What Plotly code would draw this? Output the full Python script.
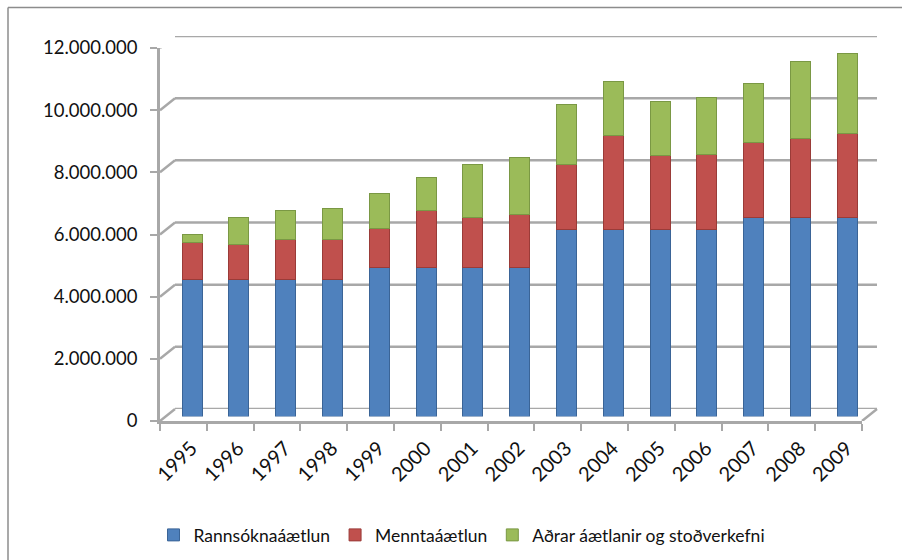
import plotly.graph_objects as go

years = ["1995", "1996", "1997", "1998", "1999", "2000", "2001", "2002",
         "2003", "2004", "2005", "2006", "2007", "2008", "2009"]
rannsokna = [4400000, 4400000, 4400000, 4400000, 4800000, 4800000, 4800000, 4800000,
             6000000, 6000000, 6000000, 6000000, 6400000, 6400000, 6400000]
mennta = [1190000, 1140000, 1300000, 1300000, 1250000, 1820000, 1610000, 1680000,
          2120000, 3040000, 2390000, 2410000, 2410000, 2530000, 2710000]
adrar = [270000, 870000, 920000, 990000, 1110000, 1080000, 1690000, 1860000,
         1930000, 1720000, 1750000, 1840000, 1890000, 2500000, 2550000]
series_names = ["Rannsóknaáætlun", "Menntaáætlun", "Aðrar áætlanir og stoðverkefni"]
tick_values = [0, 2000000, 4000000, 6000000, 8000000, 10000000, 12000000]

colors = ["#4F81BD", "#C0504D", "#9BBB59"]
edge = ["#3A6497", "#9A3B38", "#7A9844"]

FONT = "Lato, 'Open Sans', sans-serif"
W, H = 902, 560
L, R, T, B = 160, 22, 36, 139
PW, PH = W - L - R, H - T - B  # 720 x 385
FRONT_W, FRONT_H = 702, 373
DX, DY = 15, 12          # depth offset of back wall
BX, BY = 8.7, 4.6        # offset of bars (mid depth)
cat_range = [-0.5, len(years) - 0.5]

fig = go.Figure()
for name, vals, c, e in zip(series_names, [rannsokna, mennta, adrar], colors, edge):
    fig.add_trace(go.Bar(
        x=years, y=vals, name=name, xaxis="x2", yaxis="y2",
        marker=dict(color=c, line=dict(color=e, width=1)),
    ))

shapes = []
gcol = "#A8A8A8"
# back wall gridlines and diagonals
for v in tick_values:
    shapes.append(dict(type="line", xref="x3 domain", yref="y3",
                       x0=0, x1=1, y0=v, y1=v,
                       line=dict(color=gcol, width=2.5), layer="below"))
    shapes.append(dict(type="line", xref="x domain", yref="y",
                       xsizemode="pixel", xanchor=0, x0=0, x1=DX,
                       ysizemode="pixel", yanchor=v, y0=0, y1=DY,
                       line=dict(color=gcol, width=2.5), layer="below"))
# floor right edge
shapes.append(dict(type="line", xref="x domain", yref="y",
                   xsizemode="pixel", xanchor=1, x0=0, x1=DX,
                   ysizemode="pixel", yanchor=0, y0=0, y1=DY,
                   line=dict(color=gcol, width=2.5), layer="below"))
# outer chart border (top and left)
px = lambda x: (x - L) / PW
py = lambda y: (T + PH - y) / PH
shapes.append(dict(type="line", xref="paper", yref="paper",
                   x0=px(8), x1=px(903), y0=py(7.5), y1=py(7.5),
                   line=dict(color="#8C8C8C", width=1.5)))
shapes.append(dict(type="line", xref="paper", yref="paper",
                   x0=px(8), x1=px(8), y0=py(7.5), y1=py(561),
                   line=dict(color="#8C8C8C", width=1.5)))

fig.update_layout(
    width=W, height=H,
    margin=dict(l=L, r=R, t=T, b=B, autoexpand=False),
    paper_bgcolor="white", plot_bgcolor="rgba(0,0,0,0)",
    barmode="stack", bargap=0.57,
    separators=",.",
    font=dict(family=FONT, size=18, color="#111111"),
    showlegend=True,
    legend=dict(orientation="h", x=px(462), xanchor="center",
                y=py(535), yanchor="middle",
                font=dict(size=17.5, color="#111111"),
                itemwidth=30, traceorder="normal"),
    xaxis=dict(domain=[0, FRONT_W / PW], type="category",
               categoryorder="array", categoryarray=years, range=cat_range,
               tickmode="array", tickvals=years, ticktext=years,
               showline=True, linecolor=gcol, linewidth=2.5,
               ticks="outside", tickson="boundaries", ticklen=7,
               tickcolor=gcol, tickwidth=1.5,
               tickangle=-45, tickfont=dict(size=20),
               ticklabelshift=8, ticklabelstandoff=5,
               showgrid=False, zeroline=False, anchor="y", automargin=False),
    yaxis=dict(domain=[0, FRONT_H / PH], range=[0, 12000000],
               tickvals=tick_values, tickformat=",d",
               showline=True, linecolor=gcol, linewidth=2.5,
               ticks="outside", ticklen=7, tickcolor=gcol, tickwidth=1.5,
               ticklabelstandoff=9,
               showgrid=False, zeroline=False, tickfont=dict(size=18.5),
               anchor="x", automargin=False),
    xaxis2=dict(domain=[BX / PW, (BX + FRONT_W) / PW], type="category",
                categoryorder="array", categoryarray=years, range=cat_range,
                visible=False, anchor="y2"),
    yaxis2=dict(domain=[BY / PH, (BY + FRONT_H) / PH], range=[0, 12000000],
                visible=False, anchor="x2"),
    xaxis3=dict(domain=[DX / PW, (DX + FRONT_W) / PW], visible=False,
                range=[0, 1], anchor="y3"),
    yaxis3=dict(domain=[DY / PH, (DY + FRONT_H) / PH], range=[0, 12000000],
                visible=False, anchor="x3"),
    shapes=shapes,
)

fig.write_html("out.html", config={"displayModeBar": False},
               post_script="document.body.style.margin='0';")
